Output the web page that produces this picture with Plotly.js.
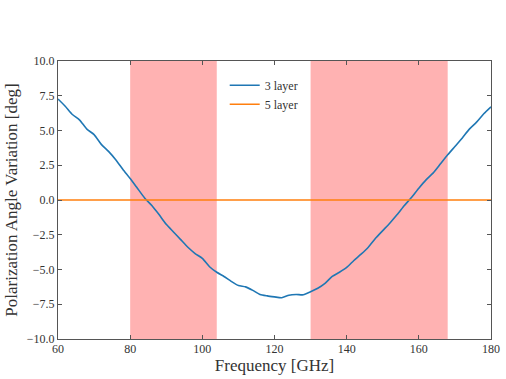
<!DOCTYPE html>
<html>
<head>
<meta charset="utf-8">
<script src="https://cdn.plot.ly/plotly-3.0.1.min.js"></script>
<style>
  html, body { margin: 0; padding: 0; background: #fff; }
  #chart { width: 506px; height: 379px; }
</style>
</head>
<body>
<div id="chart"></div>
<script>
// frequency grid, GHz
const freq = [60, 62, 64, 66, 68, 70, 72, 74, 76, 78, 80, 82, 84, 86, 88, 90,
  92, 94, 96, 98, 100, 102, 104, 106, 108, 110, 112, 114, 116, 118, 120,
  122, 124, 126, 128, 130, 132, 134, 136, 138, 140, 142, 144, 146, 148, 150,
  152, 154, 156, 158, 160, 162, 164, 166, 168, 170, 172, 174, 176, 178, 180];

// polarization angle variation, deg
const layer3 = [7.27, 6.75, 6.15, 5.75, 5.1, 4.7, 4.0, 3.5, 2.9, 2.2, 1.55,
  0.85, 0.15, -0.4, -1.05, -1.75, -2.3, -2.85, -3.4, -3.85, -4.2, -4.8, -5.2,
  -5.5, -5.85, -6.15, -6.25, -6.5, -6.8, -6.9, -6.97, -7.03, -6.85, -6.8,
  -6.82, -6.6, -6.35, -6.0, -5.5, -5.2, -4.85, -4.35, -3.9, -3.4, -2.75,
  -2.2, -1.65, -1.05, -0.4, 0.2, 0.85, 1.45, 1.95, 2.6, 3.25, 3.85, 4.45,
  5.1, 5.6, 6.2, 6.7];
const layer5 = freq.map(() => 0);

// shaded observing bands [start, end] in GHz
const bands = [[80, 104], [130, 168]];

const yTicks = [-10, -7.5, -5, -2.5, 0, 2.5, 5, 7.5, 10];
const xTicks = [60, 80, 100, 120, 140, 160, 180];

const font = 'Liberation Serif, DejaVu Serif, serif';

const traces = [
  { x: freq, y: layer3, type: 'scatter', mode: 'lines', name: '3 layer',
    line: { color: '#1f77b4', width: 1.6, shape: 'spline', smoothing: 0.6 } },
  { x: freq, y: layer5, type: 'scatter', mode: 'lines', name: '5 layer',
    line: { color: '#ff7f0e', width: 1.6 } }
];

const shapes = bands.map(b => ({
  type: 'rect', xref: 'x', yref: 'paper', x0: b[0], x1: b[1], y0: 0, y1: 1,
  fillcolor: 'rgba(255,0,0,0.3)', line: { width: 0 }, layer: 'below'
}));

const axisCommon = {
  showgrid: false, zeroline: false, showline: true, mirror: 'ticks',
  linecolor: '#555', linewidth: 1, ticks: 'inside', ticklen: 4,
  tickcolor: '#555', tickfont: { family: font, size: 12, color: '#333' }
};

const layout = {
  width: 506, height: 379,
  margin: { l: 58, r: 15, t: 61, b: 40 },
  paper_bgcolor: '#fff', plot_bgcolor: '#fff',
  font: { family: font, color: '#333' },
  showlegend: true,
  legend: { x: 0.385, y: 0.965, xanchor: 'left', yanchor: 'top',
    bgcolor: 'rgba(0,0,0,0)', font: { family: font, size: 12, color: '#333' } },
  shapes: shapes,
  xaxis: Object.assign({}, axisCommon, {
    range: [60, 180], tickvals: xTicks, ticklabelstandoff: -1,
    title: { text: 'Frequency [GHz]', font: { family: font, size: 17, color: '#333' }, standoff: 2 }
  }),
  yaxis: Object.assign({}, axisCommon, {
    range: [-10, 10], tickvals: yTicks, tickformat: '.1f',
    title: { text: 'Polarization Angle Variation [deg]', font: { family: font, size: 17, color: '#333' }, standoff: 4 }
  })
};

Plotly.newPlot('chart', traces, layout, { displayModeBar: false, staticPlot: true });
</script>
</body>
</html>
